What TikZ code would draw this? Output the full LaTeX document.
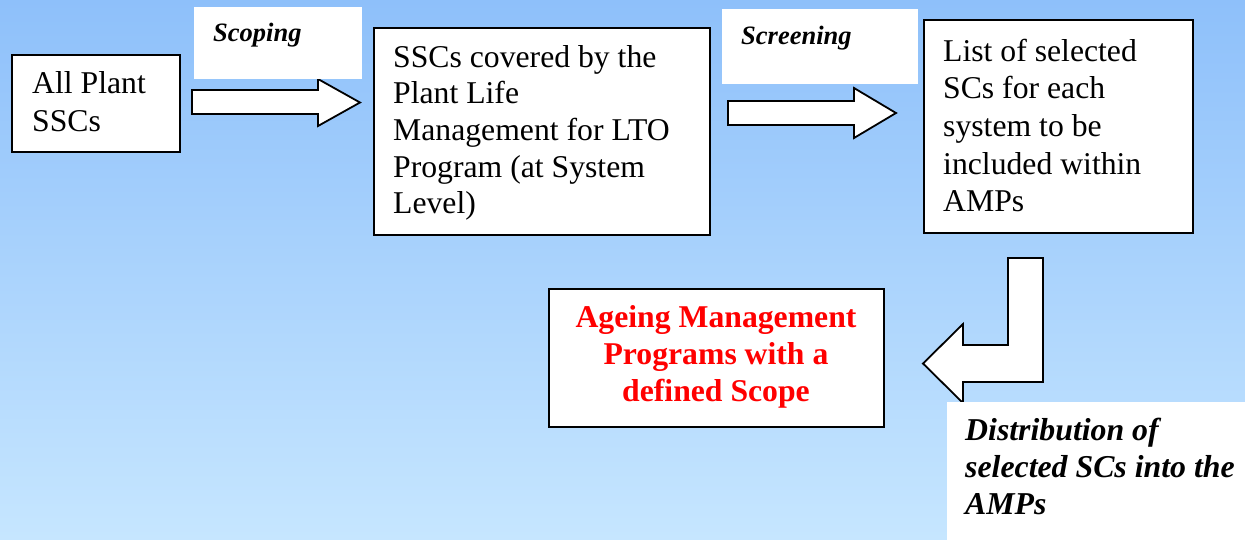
\documentclass[tikz,border=0pt]{standalone}
\usepackage{fontspec}
\setmainfont{Liberation Serif}
\newcommand{\linestack}[2]{\begin{tabular}[t]{@{}#1@{}}#2\end{tabular}}
\begin{document}
\begin{tikzpicture}[x=1pt,y=-1pt,
  box/.style={draw=black, line width=2pt, fill=white, inner sep=0pt, anchor=north west},
  tag/.style={fill=white, inner sep=0pt, anchor=north west},
  blockarrow/.style={draw=black, line width=1.8pt, fill=white, line join=miter},
  body/.style={font=\fontsize{31.7}{36.7}\selectfont, inner sep=0pt, anchor=base west},
  label/.style={font=\fontsize{26.5}{32}\selectfont\bfseries\itshape, inner sep=0pt, anchor=base west},
  note/.style={font=\fontsize{31.8}{37}\selectfont\bfseries\itshape, inner sep=0pt, anchor=base west},
  result/.style={font=\fontsize{31.7}{37}\selectfont\bfseries, text=red, inner sep=0pt, anchor=base}
]
% sky-blue page background
\useasboundingbox (0,0) rectangle (1245,539);
\shade[top color={rgb,255:red,142;green,192;blue,250},
       bottom color={rgb,255:red,198;green,230;blue,255}]
  (0,0) rectangle (1245,539);

% process boxes
\node[box, minimum width=168pt, minimum height=97pt] (plant) at (11,54) {};
\node[box, minimum width=336pt, minimum height=207pt] (plim) at (373,27) {};
\node[box, minimum width=269pt, minimum height=213pt] (sel) at (923,19) {};
\node[box, minimum width=335pt, minimum height=138pt] (amp) at (548,288) {};

% block arrows between the boxes
\draw[blockarrow] (192,90) -- (318,90) -- (318,79) -- (360,102.5) -- (318,126)
  -- (318,114) -- (192,114) -- cycle;
\draw[blockarrow] (728,101) -- (854,101) -- (854,88) -- (896,113) -- (854,138)
  -- (854,125) -- (728,125) -- cycle;
\draw[blockarrow] (1008,258) -- (1043,258) -- (1043,382) -- (963,382) -- (963,403)
  -- (923,363.5) -- (963,324) -- (963,345) -- (1008,345) -- cycle;

% white label panels
\node[tag, minimum width=168pt, minimum height=72pt] (scopetag) at (194,7) {};
\node[tag, minimum width=196pt, minimum height=75pt] (screentag) at (722,9) {};
\node[tag, minimum width=300pt, minimum height=140pt] (disttag) at (947,402) {};

% texts
\node[body, font=\fontsize{31.7}{38}\selectfont] (plantText) at (32,93)
  {\linestack{l}{All Plant\\SSCs}};
\node[body] (plimText) at (393,67)
  {\linestack{l}{SSCs covered by the\\Plant Life\\Management for LTO\\Program (at System\\Level)}};
\node[body, font=\fontsize{31.7}{37.7}\selectfont] (selText) at (943,61)
  {\linestack{l}{List of selected\\SCs for each\\system to be\\included within\\AMPs}};
\node[result] (ampText) at (716,327)
  {\linestack{c}{Ageing Management\\Programs with a\\defined Scope}};
\node[label] (scopeText) at (213,41) {Scoping};
\node[label] (screenText) at (741,44.5) {Screening};
\node[note] (distText) at (965,440)
  {\linestack{l}{Distribution of\\selected SCs into the\\AMPs}};
\end{tikzpicture}
\end{document}
